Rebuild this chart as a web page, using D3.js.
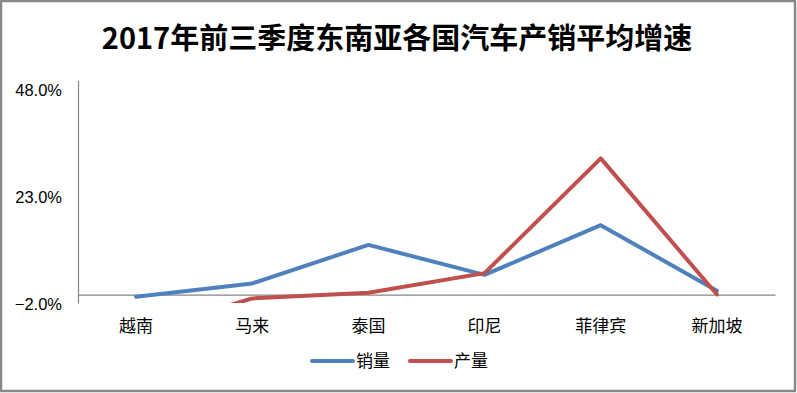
<!DOCTYPE html>
<html><head><meta charset="utf-8">
<script src="https://cdn.jsdelivr.net/npm/d3@7/dist/d3.min.js"></script>
<style>
body{margin:0;background:#fff;}
svg{display:block;}
</style></head>
<body>
<svg id="chart" width="797" height="393"></svg>
<script>
const title = "2017年前三季度东南亚各国汽车产销平均增速";
const categories = ["越南","马来","泰国","印尼","菲律宾","新加坡"];
const salesValues = [-0.5, 2.6, 11.6, 4.6, 16.2, 0.9];      // 销量
const productionValues = [-9.0, -0.9, 0.4, 5.0, 31.8, 0.0]; // 产量
const yTicks = [-2, 23, 48];
const seriesNames = ["销量","产量"];
const seriesColors = ["#4F81BD","#C0504D"];

const svg = d3.select("#chart");
const W = 797, H = 393;
// border
svg.append("rect").attr("x",1).attr("y",1).attr("width",W-3).attr("height",H-3)
  .attr("fill","#fff").attr("stroke","#888").attr("stroke-width",2.5);

// title
svg.append("text").attr("x",397).attr("y",49).attr("text-anchor","middle")
  .attr("font-family","'Noto Sans CJK SC', sans-serif").attr("font-weight","bold")
  .attr("font-size",29).attr("fill","#000").text(title);

const left = 78, right = 775;
const x = d3.scaleBand().domain(categories).range([left, right]);
const y = d3.scaleLinear().domain([-2, 50]).range([303.1, 80.5]);

// clip
svg.append("clipPath").attr("id","plotclip").append("rect")
  .attr("x",left).attr("y",y(50)).attr("width",right-left).attr("height",y(-2)-y(50));

// y axis
const yAxis = d3.axisLeft(y).tickValues(yTicks).tickSize(0).tickPadding(16)
  .tickFormat(d => d3.format(".1f")(d) + "%");
const gy = svg.append("g").attr("transform",`translate(${left},0)`).call(yAxis);
gy.select(".domain").attr("stroke","#868686").attr("stroke-width",1.2);
gy.selectAll("text").attr("font-family","'Liberation Sans', Arial, sans-serif")
  .attr("font-size",16.5).attr("fill","#000").attr("dy","0.38em");

// x axis at 0
const xAxis = d3.axisBottom(x).tickSize(0).tickPadding(0);
const gx = svg.append("g").attr("transform",`translate(0,${y(0)})`).call(xAxis);
gx.select(".domain").attr("stroke","#868686").attr("stroke-width",1.2);
gx.selectAll(".tick text").attr("font-family","'Noto Sans CJK SC', sans-serif")
  .attr("font-size",17).attr("fill","#000").attr("dy",0)
  .attr("y", 332 - y(0));

// lines
const line = d3.line().x((d,i) => x(categories[i]) + x.bandwidth()/2).y(d => y(d));
const plotG = svg.append("g").attr("clip-path","url(#plotclip)");
[salesValues, productionValues].forEach((vals, k) => {
  plotG.append("path").datum(vals).attr("d", line)
    .attr("fill","none").attr("stroke", seriesColors[k]).attr("stroke-width",4)
    .attr("stroke-linejoin","round").attr("stroke-linecap","round");
});

// legend
const legX = [312, 410];
seriesNames.forEach((name, k) => {
  const g = svg.append("g");
  g.append("line").attr("x1",legX[k]).attr("x2",legX[k]+41).attr("y1",361).attr("y2",361)
    .attr("stroke",seriesColors[k]).attr("stroke-width",4).attr("stroke-linecap","round");
  g.append("text").attr("x",legX[k]+44).attr("y",367)
    .attr("font-family","'Noto Sans CJK SC', sans-serif").attr("font-size",17)
    .attr("fill","#000").text(name);
});
</script>
</body></html>
